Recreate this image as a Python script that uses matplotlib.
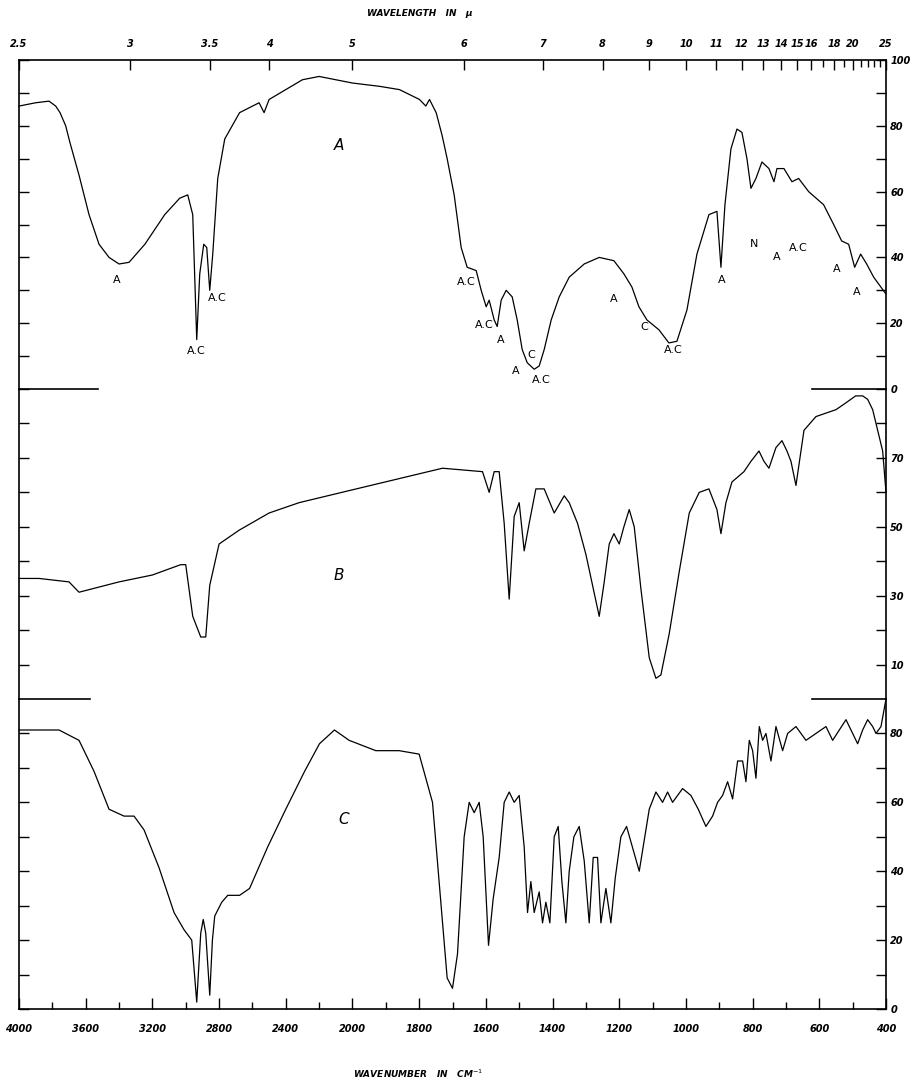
import numpy as np
import matplotlib
matplotlib.use("Agg")
import matplotlib.pyplot as plt
from matplotlib.ticker import FixedLocator, FixedFormatter, NullFormatter

# ---------------- data ----------------
# Spectrum A (wavenumber cm-1, % transmission)
a_wn = [4000, 3900, 3820, 3780, 3754, 3720, 3695, 3640, 3580, 3520, 3460, 3400, 3340, 3245, 3126,
        3036, 2988, 2958,
        2934, 2916, 2892, 2874, 2856, 2838, 2808, 2766, 2677, 2560, 2530, 2500, 2400, 2300, 2200,
        2100, 2000, 1919, 1859, 1799, 1780, 1769, 1749, 1731, 1716, 1695, 1674, 1656, 1629, 1614, 1599,
        1590, 1575, 1566, 1554, 1539, 1521, 1506, 1491, 1476, 1455, 1440, 1425, 1404, 1380, 1350,
        1305, 1260, 1216, 1186, 1162, 1141, 1117, 1081, 1051, 1027, 997, 967, 931, 907, 895,
        883, 865, 847, 832, 817, 805, 790, 772, 751, 736, 727, 706, 682, 662, 632,
        587, 557, 533, 512, 494, 476, 458, 437, 401]
a_tr = [86, 87, 87.5, 86, 84, 80, 75, 65, 53, 44, 40, 38, 38.5, 44, 53,
        58, 59, 53,
        15, 35, 44, 43, 30, 41, 64, 76, 84, 87, 84, 88, 91, 94, 95,
        94, 93, 92, 91, 88, 86, 88, 84, 77, 70, 59, 43, 37, 36, 30, 25,
        27, 21, 19, 27, 30, 28, 21, 12, 8, 6, 7, 12, 21, 28, 34,
        38, 40, 39, 35, 31, 25, 21, 18, 14, 14.5, 24, 41, 53, 54, 37,
        56, 73, 79, 78, 70, 61, 64, 69, 67, 63, 67, 67, 63, 64, 60,
        56, 50, 45, 44, 37, 41, 38, 34, 29]

# Spectrum B
b_wn = [4000, 3880, 3700, 3640, 3400, 3200, 3030, 3000, 2958, 2910, 2880, 2856, 2800, 2680,
        2500, 2320, 2020, 1730, 1610, 1590, 1575, 1560, 1545, 1530, 1515, 1500, 1485, 1470,
        1450, 1425, 1395, 1365, 1350, 1325, 1300, 1280, 1260, 1245, 1230, 1216, 1200, 1186,
        1170, 1155, 1135, 1110, 1090, 1075, 1050, 1020, 990, 960, 931, 907, 895, 880, 862,
        826, 805, 781, 766, 751, 730, 712, 697, 685, 670, 646, 610, 580, 550, 520, 491, 470,
        455, 440, 410, 400]
b_tr = [35, 35, 34, 31, 34, 36, 39, 39, 24, 18, 18, 33, 45, 49,
        54, 57, 60.5, 67, 66, 60, 66, 66, 51, 29, 53, 57, 43, 51,
        61, 61, 54, 59, 57, 51, 42, 33, 24, 34, 45, 48, 45, 50,
        55, 50, 32, 12, 6, 7, 19, 37, 54, 60, 61, 55, 48, 57,
        63, 66, 69, 72, 69, 67, 73, 75, 72, 69, 62, 78, 82, 83, 84, 86, 88, 88,
        87, 84, 72, 60]

# Spectrum C
c_wn = [4000, 3760, 3640, 3550, 3460, 3370, 3310, 3250, 3160, 3070, 3010, 2964, 2934, 2910,
        2895, 2880, 2856, 2840, 2826, 2784, 2748, 2677, 2617, 2509, 2400, 2287, 2198, 2108, 2020,
        1930, 1860, 1800, 1760, 1735, 1716, 1700, 1685, 1665, 1650, 1635, 1620, 1608, 1592,
        1578, 1560, 1545, 1530, 1515, 1500, 1485, 1475, 1465, 1455, 1440, 1430, 1420, 1408, 1395,
        1383, 1372, 1360, 1350, 1336, 1320, 1305, 1290, 1278, 1265, 1255, 1240, 1225, 1212,
        1195, 1178, 1140, 1110, 1090, 1070, 1055, 1040, 1010, 985, 963, 940, 920, 905, 890,
        875, 860, 845, 830, 820, 810, 800, 790, 780, 770, 760, 745, 730, 710, 695, 670, 640,
        610, 580, 560, 540, 520, 500, 485, 470, 455, 440, 430, 415, 400]
c_tr = [81, 81, 78, 69, 58, 56, 56, 52, 41, 28, 23, 20, 2, 22,
        26, 22, 4, 20, 27, 31, 33, 33, 35, 47, 58, 69, 77, 81, 78,
        75, 75, 74, 60, 31, 9, 6, 16, 50, 60, 57, 60, 50, 18.5,
        32, 44, 60, 63, 60, 62, 47, 28, 37, 28, 34, 25, 31, 25, 50,
        53, 37, 25, 40, 50, 53, 43, 25, 44, 44, 25, 35, 25, 38,
        50, 53, 40, 58, 63, 60, 63, 60, 64, 62, 58, 53, 56, 60, 62,
        66, 61, 72, 72, 66, 78, 75, 67, 82, 78, 80, 72, 82, 75, 80, 82, 78,
        80, 82, 78, 81, 84, 80, 77, 81, 84, 82, 80, 82, 90]

# peak assignment labels on spectrum A
ann_text = ["A", "A.C", "A.C", "A.C", "A.C", "A", "A", "C", "A.C", "A", "C", "A.C",
            "A", "N", "A", "A.C", "A", "A"]
ann_wn = [3413, 2934, 2808, 1659, 1605, 1554, 1509, 1464, 1434, 1216, 1126, 1039,
          892, 796, 727, 662, 548, 488]
ann_tr = [33, 11.6, 27.8, 32.5, 19.4, 15, 5.5, 10.4, 2.6, 27.5, 18.8, 12,
          33, 44, 40, 43, 36.5, 29.6]

panel_names = ["A", "B", "C"]
panel_wn = [2080, 2080, 2050]
panel_tr = [74, 36, 55]

# axis ticks
wl_major = [2.5, 3, 3.5, 4, 5, 6, 7, 8, 9, 10, 11, 12, 13, 14, 15, 16, 18, 20, 25]
wl_major_lbl = ["2.5", "3", "3.5", "4", "5", "6", "7", "8", "9", "10", "11", "12", "13",
                "14", "15", "16", "18", "20", "25"]
wl_minor = [17, 19, 21, 22, 23, 24]
wn_major = [4000, 3600, 3200, 2800, 2400, 2000, 1800, 1600, 1400, 1200, 1000, 800, 600, 400]
wn_minor = [3800, 3400, 3000, 2600, 2200, 1900, 1700, 1500, 1300, 1100, 900, 700, 500]

a_ylab = [100, 80, 60, 40, 20, 0]
a_ymin = [90, 70, 50, 30, 10]
b_ylab = [70, 50, 30, 10]
b_ymin = [80, 60, 40, 20]
c_ylab = [80, 60, 40, 20, 0]
c_ymin = [70, 50, 30, 10]


# ---------------- scale: 4000-2000 compressed 2:1 ----------------
def fwd(w):
    w = np.asarray(w, dtype=float)
    return np.where(w >= 2000.0, w, 2.0 * w - 2000.0)


def inv(v):
    v = np.asarray(v, dtype=float)
    return np.where(v >= 2000.0, v, (v + 2000.0) / 2.0)


W, H = 912, 1082
fig = plt.figure(figsize=(W / 100, H / 100), dpi=100)
xl, xr = 19, 886
ytop, yab, ybc, ybot = 60, 389, 699, 1009


def rect(y0, y1):
    return [xl / W, 1 - y1 / H, (xr - xl) / W, (y1 - y0) / H]


axA = fig.add_axes(rect(ytop, yab))
axB = fig.add_axes(rect(yab, ybc))
axC = fig.add_axes(rect(ybc, ybot))

lw_frame = 1.2
tick_fs = 7
for ax in (axA, axB, axC):
    ax.set_xscale('function', functions=(fwd, inv))
    ax.set_xlim(4000, 400)
    ax.patch.set_visible(False)
    for s in ax.spines.values():
        s.set_linewidth(lw_frame)
    ax.yaxis.set_ticks_position('both')
    ax.tick_params(axis='y', which='both', direction='in', left=True, right=True,
                   labelleft=False, labelright=True, length=7, width=1.0,
                   labelsize=7, pad=3)

axA.set_ylim(0, 100)
axB.set_ylim(0, 90)
axC.set_ylim(0, 90)

axA.spines['bottom'].set_visible(False)
axB.spines['bottom'].set_visible(False)
axB.spines['top'].set_visible(False)
axC.spines['top'].set_visible(False)


def style_labels(labels):
    for t in labels:
        t.set_fontstyle('italic')
        t.set_fontweight('bold')


# y ticks
for ax, lab, mn in ((axA, a_ylab, a_ymin), (axB, b_ylab, b_ymin), (axC, c_ylab, c_ymin)):
    ax.yaxis.set_major_locator(FixedLocator(lab))
    ax.yaxis.set_major_formatter(FixedFormatter([str(v) for v in lab]))
    ax.yaxis.set_minor_locator(FixedLocator(mn))
    ax.yaxis.set_minor_formatter(NullFormatter())
    style_labels(ax.get_yticklabels())

# top wavelength axis on A
axA.xaxis.set_ticks_position('top')
axA.xaxis.set_major_locator(FixedLocator([10000.0 / l for l in wl_major]))
axA.xaxis.set_major_formatter(FixedFormatter(wl_major_lbl))
axA.xaxis.set_minor_locator(FixedLocator([10000.0 / l for l in wl_minor]))
axA.xaxis.set_minor_formatter(NullFormatter())
axA.tick_params(axis='x', which='major', direction='in', top=True, bottom=False,
                labeltop=True, labelbottom=False, length=7, width=1.0,
                labelsize=tick_fs, pad=8)
axA.tick_params(axis='x', which='minor', direction='in', top=True, bottom=False,
                length=5, width=1.0)
style_labels(axA.get_xticklabels())

axB.tick_params(axis='x', which='both', bottom=False, top=False,
                labelbottom=False, labeltop=False)

axC.xaxis.set_major_locator(FixedLocator(wn_major))
axC.xaxis.set_major_formatter(FixedFormatter([str(v) for v in wn_major]))
axC.xaxis.set_minor_locator(FixedLocator(wn_minor))
axC.xaxis.set_minor_formatter(NullFormatter())
axC.tick_params(axis='x', which='major', direction='in', bottom=True, top=False,
                length=8, width=1.0, labelsize=tick_fs, pad=11)
axC.tick_params(axis='x', which='minor', direction='in', bottom=True, top=False,
                length=5, width=1.0)
style_labels(axC.get_xticklabels())

# separator stubs
frac_l1 = (98 - xl) / (xr - xl)
frac_l2 = (90 - xl) / (xr - xl)
frac_r = (812 - xl) / (xr - xl)
axA.axhline(0, 0, frac_l1, color='k', lw=lw_frame, clip_on=False)
axA.axhline(0, frac_r, 1, color='k', lw=lw_frame, clip_on=False)
axB.axhline(0, 0, frac_l2, color='k', lw=lw_frame, clip_on=False)
axB.axhline(0, frac_r, 1, color='k', lw=lw_frame, clip_on=False)

# spectra
lw_sp = 0.9
axA.plot(a_wn, a_tr, color='k', lw=lw_sp, clip_on=False)
axB.plot(b_wn, b_tr, color='k', lw=lw_sp, clip_on=False)
axC.plot(c_wn, c_tr, color='k', lw=lw_sp, clip_on=False)

for t, w, v in zip(ann_text, ann_wn, ann_tr):
    axA.text(w, v, t, ha='center', va='center', fontsize=8)

for ax, n, w, v in zip((axA, axB, axC), panel_names, panel_wn, panel_tr):
    ax.text(w, v, n, ha='center', va='center', fontsize=11, fontstyle='italic')

fig.text(367 / W, 1 - 13 / H, 'WAVELENGTH   IN   µ', ha='left', va='center',
         fontsize=6.5, fontstyle='italic', fontweight='bold')
fig.text(353 / W, 1 - 1074 / H, 'WAVENUMBER   IN   CM$^{-1}$', ha='left', va='center',
         fontsize=6.5, fontstyle='italic', fontweight='bold')

fig.savefig('out.png', dpi=100)
